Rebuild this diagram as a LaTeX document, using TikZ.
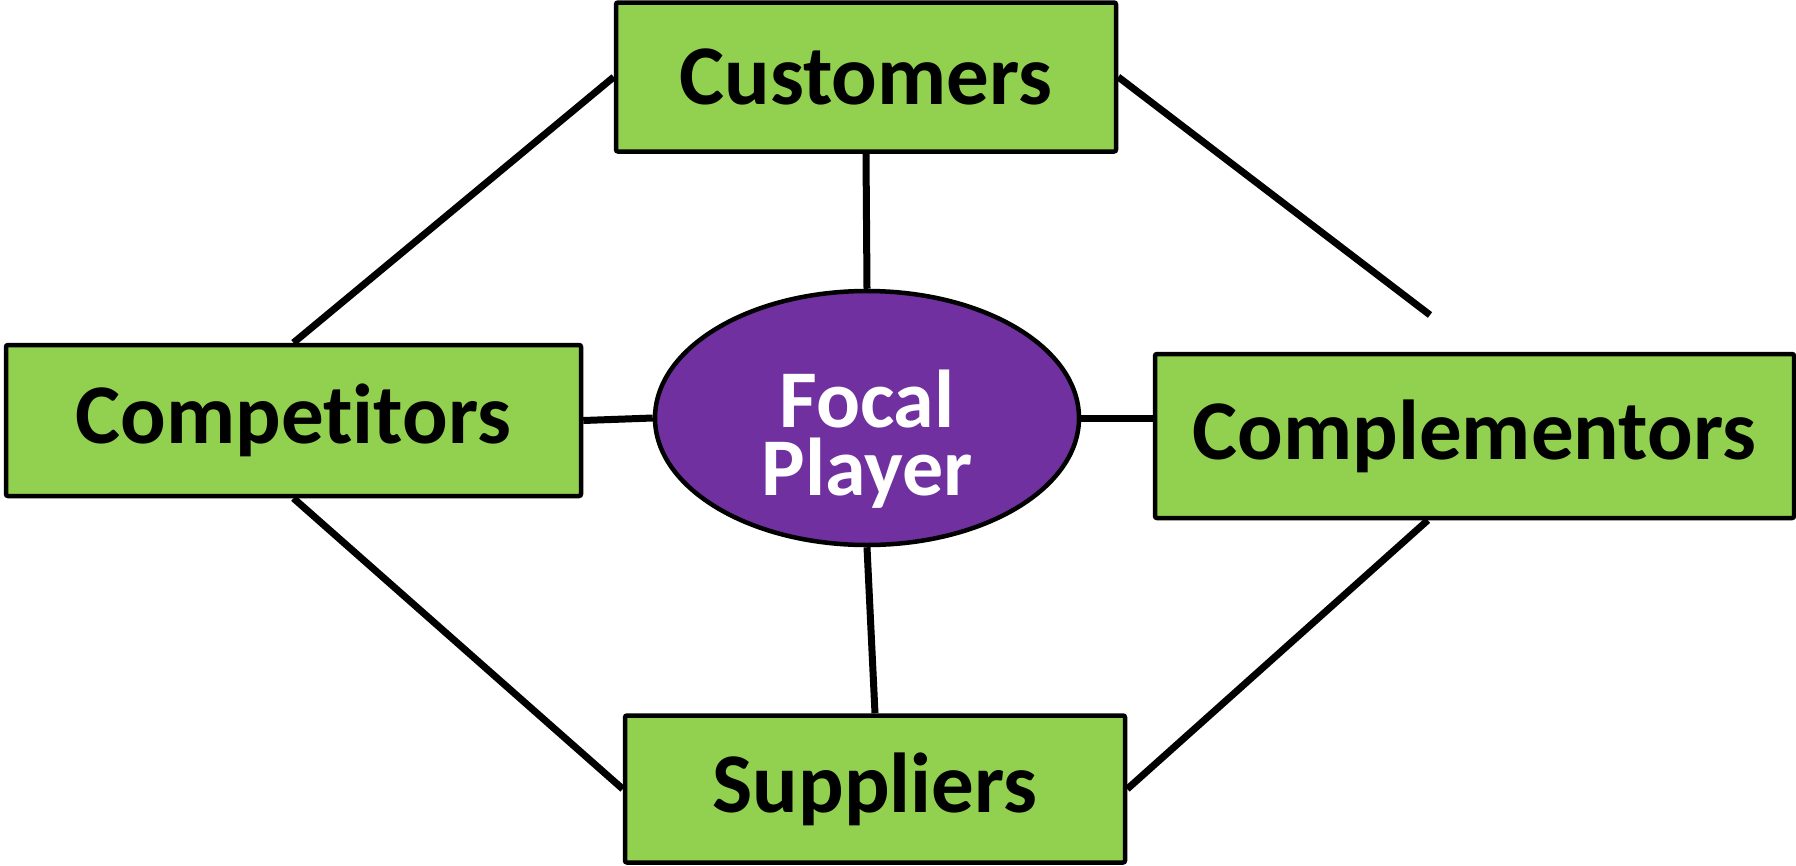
\documentclass[tikz,border=0pt]{standalone}
\usepackage{fontspec}
\setmainfont{Carlito}[Ligatures={NoCommon,NoContextual}]
\usetikzlibrary{shapes.geometric}
\definecolor{boxgreen}{HTML}{92D050}
\definecolor{focalpurple}{HTML}{7030A0}
\tikzset{
  greenbox/.style={draw=black, line width=4.5pt, fill=boxgreen, rounded corners=2pt,
    inner sep=0pt, font=\fontsize{85}{85}\selectfont\bfseries, text=black},
  focalnode/.style={ellipse, draw=black, line width=4.5pt, fill=focalpurple, inner sep=0pt,
    minimum width=424pt, minimum height=254pt, text=white, align=center,
    font=\fontsize{82}{69}\selectfont\bfseries},
  link/.style={draw=black, line width=7pt}
}
\begin{document}
\begin{tikzpicture}[x=1pt, y=-1pt]
\useasboundingbox (0,0) rectangle (1796,865);
\node[greenbox, minimum width=500pt, minimum height=149pt] (cust) at (866,77) {Customers};
\node[greenbox, minimum width=575pt, minimum height=151pt] (comp) at (293.5,420.5) {Competitors};
\node[greenbox, minimum width=639pt, minimum height=164pt] (compl) at (1474.5,436) {Complementors};
\node[greenbox, minimum width=500pt, minimum height=147pt] (sup) at (875,789) {Suppliers};
\node[focalnode] (focal) at (867,418) {\raisebox{-25pt}[\height][\depth]{\begin{tabular}{@{}c@{}}Focal\\[-11pt]Player\end{tabular}}};
\coordinate (custtail) at (1430,315);
\draw[link] (cust.south) -- (focal.north);
\draw[link] (focal.south) -- (sup.north);
\draw[link] (comp.east) -- (focal.west);
\draw[link] (focal.east) -- (focal.east -| compl.west);
\draw[link] (cust.west) -- (comp.north);
\draw[link] (cust.east) -- (custtail);
\draw[link] ([xshift=275pt]compl.south west) -- (sup.east);
\draw[link] (comp.south) -- (sup.west);
\end{tikzpicture}
\end{document}
